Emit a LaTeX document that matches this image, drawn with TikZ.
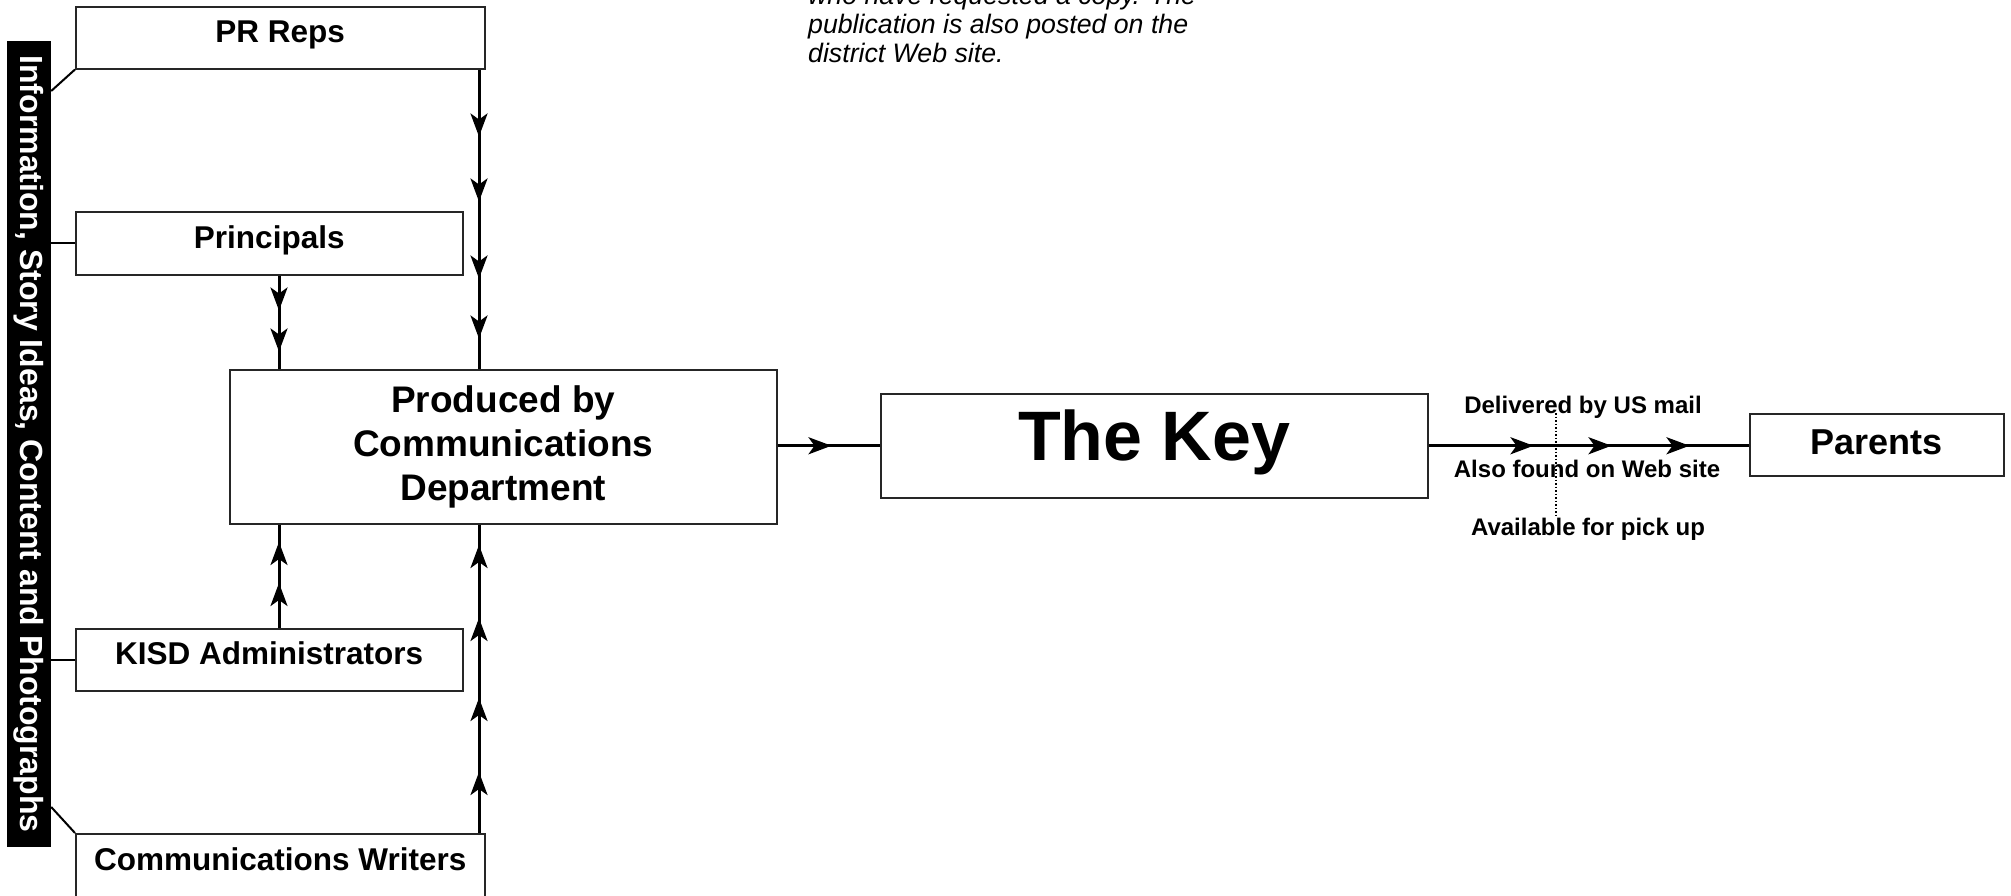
\documentclass[tikz,border=0pt]{standalone}
\usepackage{fontspec}
\setmainfont{Liberation Sans}
\usetikzlibrary{arrows.meta,decorations.markings}
\tikzset{
  harrow/.tip={Stealth[length=23pt,width=17pt,inset=6pt]},
  ma/.style={postaction={decorate,decoration={markings,mark=at position #1 with {\arrow{harrow}}}}},
  boxbase/.style={draw=black!85,line width=1.5pt,fill=white,inner sep=0pt,anchor=north west},
  box/.style={boxbase,font=\fontsize{31.5}{38}\selectfont\bfseries,text height=22pt,text depth=12pt},
  conn/.style={line width=3pt,black},
  thinln/.style={line width=2pt,black},
  lbl/.style={anchor=base,inner sep=0pt,font=\fontsize{24}{28}\selectfont\bfseries},
  note/.style={anchor=base west,inner sep=0pt,font=\fontsize{26.7}{29}\selectfont\itshape},
}
\begin{document}
\begin{tikzpicture}[x=1pt,y=-1pt]
\fill[white] (0,0) rectangle (2011,895);
\useasboundingbox (0,0) rectangle (2011,895);

% side bar
\node[fill=black,text=white,rotate=-90,minimum width=806pt,minimum height=44pt,inner sep=0pt,
      font=\fontsize{32}{38}\selectfont\bfseries] (bar) at (29,444)
      {Information, Story Ideas, Content and Photographs};

% boxes
\node[box,minimum width=409pt,minimum height=62pt] (pr) at (75,6) {PR Reps};
\node[box,minimum width=387pt,minimum height=63pt] (prin) at (75,211) {Principals};
\node[boxbase,minimum width=547pt,minimum height=154pt,align=center,
      font=\fontsize{37}{44}\selectfont\bfseries] (prod) at (229,369)
      {Produced by\\Communications\\Department};
\node[boxbase,minimum width=547pt,minimum height=104pt,
      font=\fontsize{70}{84}\selectfont\bfseries,text height=51pt,text depth=21pt] (key) at (880,393) {The Key};
\node[boxbase,minimum width=254pt,minimum height=62pt,
      font=\fontsize{36}{43}\selectfont\bfseries,text height=26pt,text depth=6pt] (par) at (1749,413) {Parents};
\node[box,minimum width=387pt,minimum height=62pt] (kisd) at (75,628) {KISD Administrators};
\node[box,minimum width=409pt,minimum height=64pt] (wri) at (75,833) {Communications Writers};

% column coordinates
\coordinate (xL) at (279,0);
\coordinate (xR) at (479,0);

% connectors to production
\draw[conn,ma=67pt,ma=132pt,ma=209pt,ma=269pt] (xR |- pr.south) -- (xR |- prod.north);
\draw[conn,ma=35pt,ma=76pt] (xL |- prin.south) -- (xL |- prod.north);
\draw[conn,ma=45pt,ma=86pt] (xL |- kisd.north) -- (xL |- prod.south);
\draw[conn,ma=61pt,ma=135pt,ma=215pt,ma=288pt] (xR |- wri.north) -- (xR |- prod.south);

% production to key to parents
\draw[conn,ma=54pt] (prod.east |- key.west) -- (key.west);
\draw[conn,ma=105pt,ma=183pt,ma=261pt] (key.east) -- (par.west |- key.east);

% side bar links
\draw[thinln] (pr.south west) -- (bar.north |- 0,91);
\draw[thinln] (prin.west) -- (bar.north |- prin.west);
\draw[thinln] (kisd.west) -- (bar.north |- kisd.west);
\draw[thinln] (wri.north west) -- (bar.north |- 0,807);

% dotted line and delivery labels
\coordinate (d1) at (1556,413);
\coordinate (d2) at (1556,518);
\draw[line width=1.5pt,dash pattern=on 1.5pt off 2pt] (d1) -- (d2);
\node[lbl] (l1) at (1583,413) {Delivered by US mail};
\node[lbl] (l2) at (1587,477) {Also found on Web site};
\node[lbl] (l3) at (1588,535) {Available for pick up};

% note text
\node[note] (t1) at (808,4) {who have requested a copy. The};
\node[note] (t2) at (808,33) {publication is also posted on the};
\node[note] (t3) at (808,62) {district Web site.};
\end{tikzpicture}
\end{document}
